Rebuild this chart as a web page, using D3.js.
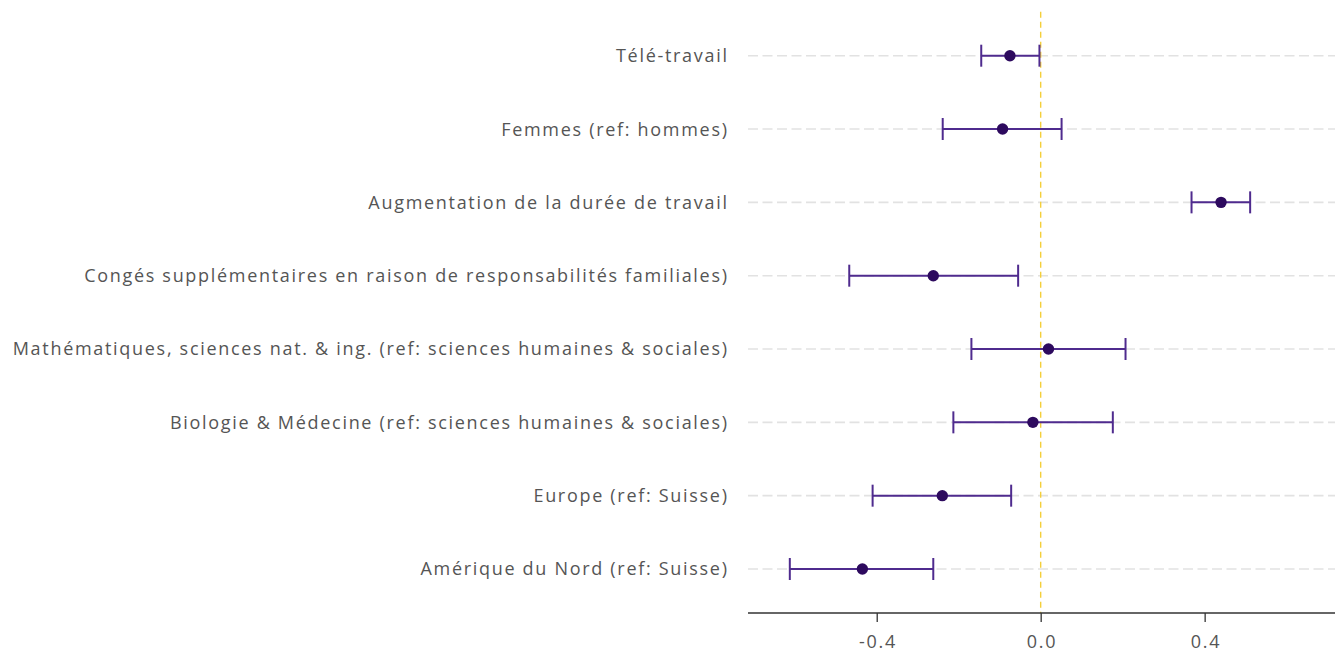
<!DOCTYPE html>
<html><head><meta charset="utf-8">
<script src="https://cdn.jsdelivr.net/npm/d3@7"></script>
<style>body{margin:0;background:#fff;} text{font-family:"Open Sans", sans-serif;}</style>
</head><body><svg id="c" width="1342" height="657"></svg>
<script>
const categories = ["Télé-travail","Femmes (ref: hommes)","Augmentation de la durée de travail","Congés supplémentaires en raison de responsabilités familiales)","Mathématiques, sciences nat. & ing. (ref: sciences humaines & sociales)","Biologie & Médecine (ref: sciences humaines & sociales)","Europe (ref: Suisse)","Amérique du Nord (ref: Suisse)"];
const estimates = [-0.075,-0.093,0.44,-0.262,0.019,-0.019,-0.24,-0.435];
const lower = [-0.145,-0.239,0.368,-0.467,-0.169,-0.213,-0.41,-0.612];
const upper = [-0.003,0.051,0.511,-0.055,0.207,0.176,-0.072,-0.262];
const xTicks = [-0.4,0.0,0.4];
const xTickLabels = ["-0.4","0.0","0.4"];

const svg = d3.select("#c");
const pL = 748, pR = 1335, pT = 11.7, pB = 613;
const x = d3.scaleLinear().domain([-0.714,0.718]).range([pL,pR]);
const y = d3.scalePoint().domain(categories).range([pT,pB]).padding(0.6);
const data = categories.map((c,i)=>({c,e:estimates[i],lo:lower[i],hi:upper[i]}));

// grid
svg.append("g").selectAll("line").data(categories).join("line")
  .attr("x1",pL).attr("x2",pR).attr("y1",d=>y(d)).attr("y2",d=>y(d))
  .attr("stroke","#e2e2e2").attr("stroke-width",1.6).attr("stroke-dasharray","10,4.5");
// zero line
svg.append("line").attr("x1",x(0)).attr("x2",x(0)).attr("y1",pT).attr("y2",pB)
  .attr("stroke","#f4cf3a").attr("stroke-width",1.4).attr("stroke-dasharray","6,4");
// y labels
const fs = 18;
const labels = svg.append("g").selectAll("text").data(categories).join("text")
  .attr("x",727).attr("y",d=>y(d)).attr("dy","0.36em").attr("text-anchor","end")
  .attr("fill","#555").attr("font-size",fs).text(d=>d);
// fit letter spacing to reference width of the longest label
const longest = labels.filter((d,i)=>i===4).node();
const w0 = longest.getComputedTextLength();
const ls = (716 - w0) / categories[4].length;
labels.attr("letter-spacing", ls + "px").attr("x", 727 + ls);
// axis
const ax = svg.append("g").attr("transform",`translate(0,${pB})`)
  .call(d3.axisBottom(x).tickValues(xTicks).tickFormat((d,i)=>xTickLabels[i]).tickSize(9).tickPadding(13));
ax.select(".domain").attr("stroke","#333").attr("stroke-width",1.3).attr("d",`M${pL},0H${pR}`);
ax.selectAll(".tick line").attr("stroke","#333").attr("stroke-width",1.3);
ax.selectAll(".tick text").attr("fill","#555").attr("font-size",fs).attr("letter-spacing",ls+"px")
  .attr("dx", ls/2).style("font-family","'Open Sans', sans-serif");
// error bars
const g = svg.append("g").selectAll("g").data(data).join("g");
const col = "#4f2b8e", cap = 11;
g.append("line").attr("x1",d=>x(d.lo)).attr("x2",d=>x(d.hi)).attr("y1",d=>y(d.c)).attr("y2",d=>y(d.c)).attr("stroke",col).attr("stroke-width",2);
g.append("line").attr("x1",d=>x(d.lo)).attr("x2",d=>x(d.lo)).attr("y1",d=>y(d.c)-cap).attr("y2",d=>y(d.c)+cap).attr("stroke",col).attr("stroke-width",2);
g.append("line").attr("x1",d=>x(d.hi)).attr("x2",d=>x(d.hi)).attr("y1",d=>y(d.c)-cap).attr("y2",d=>y(d.c)+cap).attr("stroke",col).attr("stroke-width",2);
g.append("circle").attr("cx",d=>x(d.e)).attr("cy",d=>y(d.c)).attr("r",5.7).attr("fill","#2d0a5e");
</script></body></html>
